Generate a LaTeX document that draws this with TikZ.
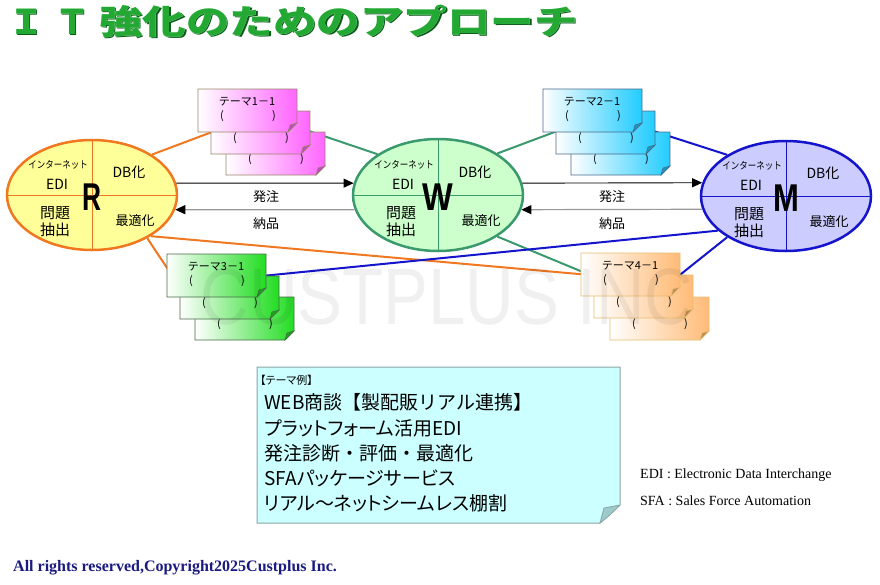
\documentclass[tikz,border=0pt]{standalone}
\usepackage{fontspec}
\usepackage{pdfrender}
\setmainfont{Liberation Sans}
\newfontfamily\jp{Noto Sans CJK JP}
\newfontfamily\jpp[RawFeature=+palt]{Noto Sans CJK JP}
\newfontfamily\tms{Liberation Serif}
\usetikzlibrary{arrows.meta,calc,shapes.geometric,backgrounds}
\definecolor{Rfill}{HTML}{FFFF99}
\definecolor{Rline}{HTML}{F07820}
\definecolor{Wfill}{HTML}{CCFFCC}
\definecolor{Wline}{HTML}{3A9A6E}
\definecolor{Mfill}{HTML}{CCCCFF}
\definecolor{Mline}{HTML}{1414CC}
\definecolor{c1}{HTML}{FF66FF}\definecolor{b1}{HTML}{9A8468}
\definecolor{c2}{HTML}{22CCFF}\definecolor{b2}{HTML}{4A6A8A}
\definecolor{c3}{HTML}{22DD22}\definecolor{b3}{HTML}{4A6A4A}
\definecolor{c4}{HTML}{FFBB77}\definecolor{b4}{HTML}{E6BE6E}
\definecolor{notefill}{HTML}{CCFFFF}
\definecolor{noteline}{HTML}{8CA5A5}
\definecolor{notefold}{HTML}{9CCACA}
\definecolor{tgreen}{HTML}{22A833}
\definecolor{tdark}{HTML}{0A5A1A}
\definecolor{trim}{HTML}{E8FFE8}
\definecolor{navy}{HTML}{1A1A80}
\tikzset{
 hub/.style={ellipse,minimum width=170pt,minimum height=110pt,inner sep=0pt,line width=2.5pt},
 divider/.style={line width=0.9pt},
 small/.style={font=\jp\fontsize{10}{10}\selectfont,inner sep=0pt},
 mid/.style={font=\jp\fontsize{14}{14}\selectfont,inner sep=0pt},
 big/.style={font=\jp\fontsize{15}{15}\selectfont,inner sep=0pt},
 opt/.style={font=\jp\fontsize{13}{13}\selectfont,inner sep=0pt},
 letter/.style={font=\bfseries\fontsize{31}{31}\selectfont,inner sep=0pt},
 cardnode/.style={minimum width=99pt,minimum height=43pt,inner sep=0pt,outer sep=0pt},
 cardtxt/.style={font=\jp\fontsize{11}{11}\selectfont,inner sep=0pt},
 conn/.style={line width=2pt},
 flowfwd/.style={line width=0.9pt,-{Triangle[length=10pt,width=9pt]}},
 flowback/.style={line width=1.2pt,draw=gray!80,-{Triangle[length=10pt,width=9pt,color=black]}},
 flowlbl/.style={font=\jp\fontsize{13}{13}\selectfont,inner sep=0pt},
 ttl/.style={font=\jp\bfseries\fontsize{34}{34}\selectfont,inner sep=0pt,anchor=west},
 notetxt/.style={font=\jpp\fontsize{19}{19}\selectfont,inner sep=0pt,anchor=west},
}
\newcommand\ttltext{Ｉ\hspace{12pt}Ｔ\hspace{10pt}\scalebox{1.28}[1]{強化のためのアプローチ}}
\newcommand\hubtexts[4]{%
  \draw[divider,#3] (#1.north) -- (#1.south);
  \draw[divider,#3] (#1.west) -- (#1.east);
  \node[small] (#1-net) at ($(#1)+(-34,-30)$) {\scalebox{0.85}[1]{インターネット}};
  \node[mid] (#1-edi) at ($(#1)+(-35,-11)$) {EDI};
  \node[mid] (#1-db) at ($(#1)+(37,-23)$) {DB化};
  \node[big] (#1-q1) at ($(#1)+(-37,18)$) {問題};
  \node[big] (#1-q2) at ($(#1)+(-37,35)$) {抽出};
  \node[opt] (#1-opt) at ($(#1)+(43,26)$) {最適化};
  \node[letter] (#1-let) at ($(#1)+(0,2)$) {\scalebox{#4}[1.25]{#2}};
}
\newcommand\card[6]{%
  \node[cardnode] (#1) at (#2+49.5,#3+21.5) {};
  \shadedraw[left color=white,right color=#4,draw=#5,line width=0.8pt]
    (#1.north west) -- (#1.north east) -- ([yshift=9pt]#1.south east)
    -- ([xshift=-9pt]#1.south east) -- (#1.south west) -- cycle;
  \filldraw[fill=#4!75!black,draw=#5,line width=0.6pt]
    ([yshift=9pt]#1.south east) -- ([xshift=-7pt,yshift=7pt]#1.south east)
    -- ([xshift=-9pt]#1.south east) -- cycle;
  \node[cardtxt] (#1-t) at ($(#1.north west)+(49,13)$) {#6};
  \node[cardtxt] (#1-l) at ($(#1.north west)+(24,27)$) {(};
  \node[cardtxt] (#1-r) at ($(#1.north west)+(76,27)$) {)};
}
\begin{document}
\begin{tikzpicture}[x=1pt,y=-1pt]
\useasboundingbox (0,0) rectangle (880,584);

% title: shadow/outline, light rim, green face
\node[ttl,text=tdark] (title-shadow) at (10.5,22.5) {\textpdfrender{TextRenderingMode=FillStroke,LineWidth=5.5}{\ttltext}};
\node[ttl,text=trim] (title-rim) at (9,21) {\textpdfrender{TextRenderingMode=FillStroke,LineWidth=2}{\ttltext}};
\node[ttl,text=tgreen] (title) at (9,21) {\ttltext};

% hubs
\node[hub,fill=Rfill,draw=Rline] (R) at (92,195) {};
\node[hub,fill=Wfill,draw=Wline,minimum height=112pt] (W) at (438,195) {};
\node[hub,fill=Mfill,draw=Mline] (M) at (786,196) {};
\hubtexts{R}{R}{Rline}{0.85}
\hubtexts{W}{W}{Wline}{1.05}
\hubtexts{M}{M}{Mline}{1.0}

% cards
\card{t1c}{226}{132}{c1}{b1}{}
\card{t1b}{211}{111}{c1}{b1}{}
\card{t1a}{198}{89}{c1}{b1}{テーマ1－1}
\card{t2c}{571}{132}{c2}{b2}{}
\card{t2b}{556}{111}{c2}{b2}{}
\card{t2a}{543}{89}{c2}{b2}{テーマ2－1}
\card{t3c}{195}{297}{c3}{b3}{}
\card{t3b}{180}{276}{c3}{b3}{}
\card{t3a}{167}{254}{c3}{b3}{テーマ3－1}
\card{t4c}{610}{297}{c4}{b4}{}
\card{t4b}{594}{275}{c4}{b4}{}
\card{t4a}{581}{253}{c4}{b4}{テーマ4－1}

% connector ends hidden under the cards
\coordinate (t1in) at (212,132);
\coordinate (t1out) at (300,128);
\coordinate (t2in) at (560,130);
\coordinate (t2out) at (650,130);
\coordinate (t3in) at (175,280);
\coordinate (t3out) at (262,276);
\coordinate (t4in) at (590,275);
\coordinate (t4out) at (676,278);

\begin{pgfonlayer}{background}
  \draw[conn,Rline] (R.34) -- (t1in);
  \draw[conn,Wline] (t1out) -- (W.146);
  \draw[conn,Wline] (W.35) -- (t2in);
  \draw[conn,Mline] (t2out) -- (M.145);
  \draw[conn,Rline] (R.-38) -- (t3in);
  \draw[conn,Rline] (R.-35) -- (t4in);
  \draw[conn,Wline] (W.-35) -- (t4in);
  \draw[conn,Mline] (M.207) -- (t3out);
  \draw[conn,Mline] (M.215) -- (t4out);
\end{pgfonlayer}

% flows
\draw[flowfwd] (R.8) -- (W.172);
\draw[flowback] (W.190) -- (R.-10);
\draw[flowfwd] (W.8) -- (M.171);
\draw[flowback] (M.189) -- (W.-10);
\node[flowlbl] (o1) at (266,197) {発注};
\node[flowlbl] (d1) at (266,224) {納品};
\node[flowlbl] (o2) at (612,197) {発注};
\node[flowlbl] (d2) at (612,224) {納品};

% note box
\filldraw[fill=notefill,draw=noteline,line width=1pt]
  (257,367) -- (620,367) -- (620,505) -- (600,523) -- (257,523) -- cycle;
\filldraw[fill=notefold,draw=noteline,line width=0.8pt]
  (620,505) -- (604,508) -- (600,523) .. controls (609,516) .. (620,505);
\node[font=\jpp\fontsize{11}{11}\selectfont,inner sep=0pt,anchor=west] (ex) at (260,380) {【テーマ例】};
\node[notetxt,font=\jp\fontsize{19}{19}\selectfont] (n1) at (264,402) {WEB商談【製配販リアル連携】};
\node[notetxt] (n2) at (264,428) {プラットフォーム活用EDI};
\node[notetxt,font=\jp\fontsize{19}{19}\selectfont] (n3) at (264,453) {発注診断・評価・最適化};
\node[notetxt] (n4) at (264,478) {SFAパッケージサービス};
\node[notetxt] (n5) at (264,503) {リアル～ネットシームレス棚割};

% footnotes
\node[font=\tms\fontsize{14}{14}\selectfont,inner sep=0pt,anchor=west] (f1) at (640,475) {EDI : Electronic Data Interchange};
\node[font=\tms\fontsize{14}{14}\selectfont,inner sep=0pt,anchor=west] (f2) at (640,501) {SFA : Sales Force Automation};
\node[font=\tms\bfseries\fontsize{16}{16}\selectfont,text=navy,inner sep=0pt,anchor=west] (cp) at (13,568) {All rights reserved,Copyright2025Custplus Inc.};

% watermark
\node[font=\fontsize{80}{80}\selectfont,text=black,text opacity=0.06,inner sep=0pt] (wm) at (447,297) {\scalebox{0.84}[1]{CUSTPLUS INC}};
\end{tikzpicture}
\end{document}
